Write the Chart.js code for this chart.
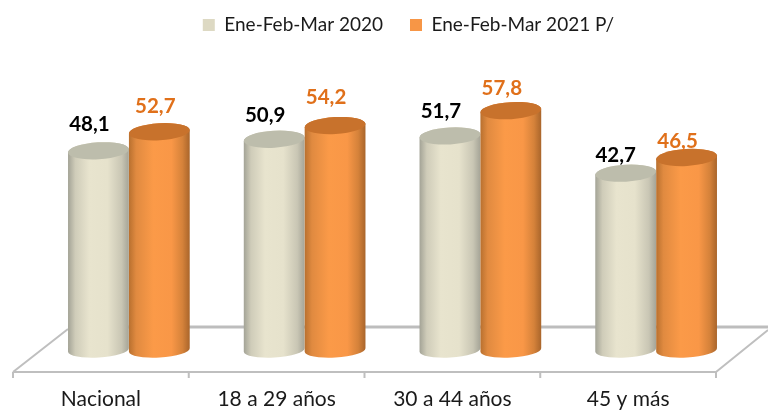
<!DOCTYPE html>
<html>
<head>
<meta charset="utf-8">
<title>Ene-Feb-Mar</title>
<script src="https://cdn.jsdelivr.net/npm/chart.js@4/dist/chart.umd.min.js"></script>
<style>
    html, body { margin: 0; padding: 0; background: #fff; }
    #contenedor { width: 768px; height: 410px; }
</style>
</head>
<body>
<div id="contenedor"><canvas id="grafico"></canvas></div>
<script>
// --- DATOS ---
const categorias = ['Nacional', '18 a 29 años', '30 a 44 años', '45 y más'];
const serie2020 = [48.1, 50.9, 51.7, 42.7];
const serie2021 = [52.7, 54.2, 57.8, 46.5];
const nombres = ['Ene-Feb-Mar 2020', 'Ene-Feb-Mar 2021 P/'];

// Ajuste fino de cada etiqueta respecto a su barra (dx, dy)
const ajusteEtiquetas = [
    [[-9, -26], [-9, -24], [-9, -25], [-10, -18]],
    [[-4, -25], [-9, -28], [-9, -22], [-9, -16]]
];

const colores = ['#ddd9c3', '#f79646'];
const coloresEtiqueta = ['#000000', '#e0701a'];
const coloresTapa = ['#bdbdac', '#c8722c'];
const degradados = [
    [[0, '#a3a396'], [0.12, '#cfccb9'], [0.35, '#e8e4ce'], [0.65, '#e6e2cc'], [0.88, '#c9c6b4'], [1, '#a5a497']],
    [[0, '#b8702f'], [0.12, '#e08a40'], [0.4, '#fb9a48'], [0.7, '#f99747'], [0.88, '#d5823a'], [1, '#a9652b']]
];

const DESVIO_3D = 28; // el piso va corrido a la izquierda de las barras
const FUENTE = 'Lato, Carlito, sans-serif';

// --- CILINDROS Y PISO ---
function dibujarPiso(chart) {
    const ctx = chart.ctx;
    const xs = chart.scales.x;
    const base = chart.scales.y.bottom;
    const paso = xs.getPixelForValue(1) - xs.getPixelForValue(0);
    const izq = xs.left - DESVIO_3D;
    const der = xs.right - DESVIO_3D;
    const frente = base + 22;
    const fondo = base - 23;

    ctx.save();
    ctx.strokeStyle = '#bfbfbf';
    ctx.lineWidth = 2;
    ctx.beginPath();
    ctx.moveTo(izq, frente);
    ctx.lineTo(der, frente);
    for (let i = 0; i <= categorias.length; i++) {
        ctx.moveTo(izq + paso * i, frente);
        ctx.lineTo(izq + paso * i, frente + 6);
    }
    ctx.moveTo(izq, frente);
    ctx.lineTo(xs.left + 27, fondo + 2);
    ctx.moveTo(der, frente);
    ctx.lineTo(768, fondo + 3);
    ctx.stroke();
    ctx.lineWidth = 3;
    ctx.strokeStyle = '#bdbdbd';
    ctx.beginPath();
    ctx.moveTo(xs.left + 27, fondo);
    ctx.lineTo(768, fondo);
    ctx.stroke();
    ctx.restore();
}

function dibujarCilindro(ctx, barra, ds) {
    const rx = barra.width / 2;
    const ry = 8.5;
    const giro = -0.06;
    const grad = ctx.createLinearGradient(barra.x - rx, 0, barra.x + rx, 0);
    degradados[ds].forEach(p => grad.addColorStop(p[0], p[1]));

    ctx.save();
    ctx.fillStyle = grad;
    ctx.beginPath();
    ctx.ellipse(barra.x, barra.base, rx, ry - 1, giro, 0, Math.PI);
    ctx.ellipse(barra.x, barra.y, rx, ry, giro, Math.PI, Math.PI * 2);
    ctx.closePath();
    ctx.fill();

    ctx.fillStyle = coloresTapa[ds];
    ctx.beginPath();
    ctx.ellipse(barra.x, barra.y, rx, ry, giro, 0, Math.PI * 2);
    ctx.fill();
    ctx.restore();
}

const pluginCilindros = {
    id: 'cilindros',
    afterLayout(chart) {
        chart.legend.left += 16;
        chart.legend.right += 16;
        chart.legend.top -= 11.5;
        chart.legend.bottom -= 11.5;
    },
    beforeDatasetsDraw(chart) {
        const ctx = chart.ctx;
        dibujarPiso(chart);
        chart.data.datasets.forEach((d, ds) => {
            chart.getDatasetMeta(ds).data.forEach(barra => dibujarCilindro(ctx, barra, ds));
        });
        // etiquetas de valor
        ctx.save();
        ctx.font = 'bold 20.5px ' + FUENTE;
        ctx.textAlign = 'center';
        ctx.textBaseline = 'middle';
        chart.data.datasets.forEach((d, ds) => {
            ctx.fillStyle = coloresEtiqueta[ds];
            chart.getDatasetMeta(ds).data.forEach((barra, i) => {
                const texto = d.data[i].toFixed(1).replace('.', ',');
                const aj = ajusteEtiquetas[ds][i];
                ctx.fillText(texto, barra.x + aj[0], barra.y + aj[1]);
            });
        });
        ctx.restore();
        return false; // los cilindros reemplazan al dibujo normal de las barras
    }
};

new Chart(document.getElementById('grafico'), {
    type: 'bar',
    data: {
        labels: categorias,
        datasets: [
            { label: nombres[0], data: serie2020, backgroundColor: colores[0], borderWidth: 0 },
            { label: nombres[1], data: serie2021, backgroundColor: colores[1], borderWidth: 0 }
        ]
    },
    plugins: [pluginCilindros],
    options: {
        responsive: true,
        maintainAspectRatio: false,
        animation: false,
        categoryPercentage: 0.693,
        barPercentage: 1,
        layout: { padding: { left: 41, right: 24, top: 0, bottom: 0 } },
        scales: {
            x: {
                grid: { display: false },
                border: { display: false },
                afterFit(escala) { escala.height = 60; },
                ticks: {
                    color: '#1a1a1a',
                    font: { family: FUENTE, size: 21 },
                    padding: 29,
                    labelOffset: -DESVIO_3D,
                    maxRotation: 0
                }
            },
            y: { display: false, min: 0, max: 71 }
        },
        plugins: {
            tooltip: { enabled: false },
            legend: {
                position: 'top',
                labels: {
                    boxWidth: 12,
                    boxHeight: 12,
                    padding: 27,
                    color: '#1a1a1a',
                    font: { family: FUENTE, size: 19 }
                }
            }
        }
    }
});
</script>
</body>
</html>
